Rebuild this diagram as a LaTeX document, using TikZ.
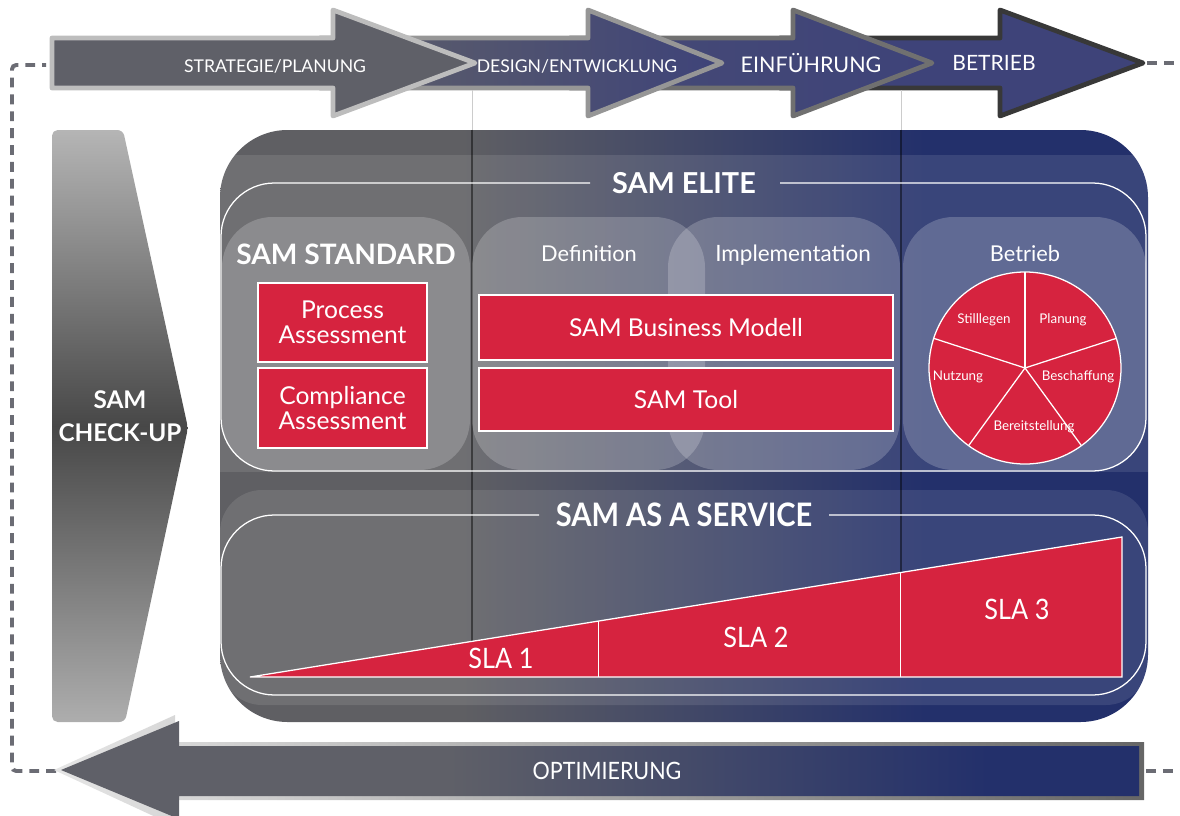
\documentclass[tikz,border=0pt]{standalone}
\usepackage{fontspec}
\setmainfont{Lato}
\newfontfamily\narrowfont{Lato}[FakeStretch=0.9]
\usetikzlibrary{positioning}

\definecolor{samgrey}{HTML}{5F5F63}
\definecolor{samnavy}{HTML}{23306B}
\definecolor{samred}{HTML}{D6233F}
\definecolor{arrowgrey}{HTML}{5F6068}
\definecolor{arrowblue}{HTML}{3E4379}
\definecolor{dashgrey}{HTML}{6B6C74}

\pgfdeclarehorizontalshading{panelshade}{100bp}{color(0bp)=(samgrey); color(38bp)=(samgrey); color(63bp)=(samnavy); color(100bp)=(samnavy)}
\pgfdeclarehorizontalshading{optshade}{100bp}{color(0bp)=(arrowgrey); color(43bp)=(arrowgrey); color(68bp)=(samnavy); color(100bp)=(samnavy)}
\pgfdeclareverticalshading{checkshade}{100bp}{color(0bp)=(black!32); color(25bp)=(black!32); color(50bp)=(black!72); color(75bp)=(black!29); color(100bp)=(black!29)}

\newcommand\pix{0.025cm}

\begin{document}
\begin{tikzpicture}
[x=\pix,y=-\pix,
  every node/.style={text=white,inner sep=0pt},
  phasetext/.style={font=\fontsize{12.5}{15}\selectfont},
  headtext/.style={font=\bfseries\fontsize{20.5}{24}\selectfont},
  blobtext/.style={font=\fontsize{15.5}{18}\selectfont},
  redbox/.style={fill=samred,draw=white,line width=0.9pt,align=center,
    font=\fontsize{17.5}{17.5}\selectfont},
  blob/.style={fill=white,fill opacity=0.2,rounded corners=36pt},
  frameline/.style={draw=white,line width=0.9pt,rounded corners=38pt},
  phaseline/.style={draw=black,draw opacity=0.45,line width=0.8pt},
  loopdash/.style={draw=dashgrey,line width=2.8pt,dash pattern=on 7pt off 5pt},
  slatext/.style={font=\narrowfont\fontsize{20}{24}\selectfont},
  pietext/.style={font=\fontsize{9.5}{11}\selectfont}]
\useasboundingbox (0,0) rectangle (1180,816);

%% dashed loop round the whole thing
\coordinate (loopstart) at (46,65);
\coordinate (loopend) at (56,771);
\draw[loopdash,rounded corners=3pt] (loopend) -- (12,771) -- (12,65) -- (loopstart);
\draw[loopdash] (1147,63) -- (1180,63);
\draw[loopdash] (1146,771) -- (1180,771);

%% phase arrows along the top, back to front
\foreach \from/\base/\tip/\lcol/\rcol/\edge in {780/1000/1143/arrowblue/arrowblue/black!78,
  570/793/932/arrowblue!75!arrowgrey/arrowblue/black!56,
  320/588/722/arrowgrey/arrowblue/black!41,
  52/333/475/arrowgrey/arrowgrey/black!26} {
  \shadedraw[left color=\lcol,right color=\rcol,draw=\edge,line width=3.4pt,line join=round]
    (\from,38) -- (\base,38) -- (\base,10) -- (\tip,63) -- (\base,116) -- (\base,88) -- (\from,88) -- cycle;
}
\node[phasetext] (strategie) at (275,66) {STRATEGIE/PLANUNG};
\node[phasetext] (design) at (577,66) {DESIGN/ENTWICKLUNG};
\node[phasetext,font=\fontsize{15.3}{17}\selectfont] (einfuehrung) at (811,63) {EINFÜHRUNG};
\node[phasetext,font=\fontsize{15}{17}\selectfont] (betrieb) at (994,63) {BETRIEB};

%% check-up wedge on the left
\shade[shading=checkshade,rounded corners=4pt]
  (52,130) -- (123,130) -- (188,428) -- (125,722) -- (52,722) -- cycle;
\node[headtext,align=center,font=\bfseries\fontsize{17.3}{23.5}\selectfont] (checkup) at (120,416) {SAM\\CHECK-UP};

%% main panel with its two lighter bands
\shade[shading=panelshade,rounded corners=48pt] (220,130) rectangle (1148,722);
\begin{scope}
  \clip[rounded corners=48pt] (220,130) rectangle (1148,722);
  \fill[white,opacity=0.1] (220,155) rectangle (1148,472);
  \fill[white,opacity=0.1,rounded corners=30pt] (220,490) rectangle (1148,705);
\end{scope}
\foreach \x/\y in {472/641, 901/573} {
  \draw[black!20,line width=0.4pt] (\x,90) -- (\x,130);
  \draw[phaseline] (\x,130) -- (\x,\y);
}

%% elite band
\foreach \l/\r in {222/470, 472/705, 668/900, 903/1146}
  \fill[blob] (\l,217) rectangle (\r,470);
\draw[frameline] (590,183) -- (221,183) -- (221,471) -- (1146,471) -- (1146,183) -- (780,183);
\node[headtext] (elite) at (684,183) {SAM ELITE};
\node[headtext,font=\bfseries\fontsize{20}{24}\selectfont] (standard) at (346,254) {SAM STANDARD};
\node[blobtext] (definition) at (589,254) {Definition};
\node[blobtext,font=\fontsize{16}{18}\selectfont] (implementation) at (793,255) {Implementation};
\node[blobtext] (betriebblob) at (1025,254) {Betrieb};

\node[redbox,minimum width=169*\pix,minimum height=79*\pix] (process) at (342.5,322.5) {Process\\Assessment};
\node[redbox,minimum width=169*\pix,minimum height=80*\pix] (compliance) at (342.5,408) {Compliance\\Assessment};
\node[redbox,minimum width=414*\pix,minimum height=65*\pix] (business) at (686,327.5) {SAM Business Modell};
\node[redbox,minimum width=414*\pix,minimum height=63*\pix] (samtool) at (686,399.5) {SAM Tool};

%% life cycle wheel
\coordinate (hub) at (1025,368);
\draw[fill=samred,draw=white,line width=0.9pt] (hub) circle [radius=96*\pix];
\foreach \a in {-90,-18,54,126,-162}
  \draw[white,line width=0.9pt] (hub) -- ++(\a:96);
\foreach \name/\x/\y/\word in {stilllegen/984/320/Stilllegen, planung/1063/320/Planung,
  nutzung/958/377/Nutzung, beschaffung/1078/377/Beschaffung, bereitstellung/1034/427/Bereitstellung}
  \node[pietext] (\name) at (\x,\y) {\word};

%% service band
\draw[frameline] (539,515) -- (221,515) -- (221,695) -- (1146,695) -- (1146,515) -- (829,515);
\node[headtext,font=\narrowfont\bfseries\fontsize{23}{26}\selectfont] (service) at (684,515) {SAM AS A SERVICE};
\coordinate (slatip) at (250,677);
\coordinate (slaend) at (1122,677);
\coordinate (slatop) at (1122,537);
\draw[fill=samred,draw=white,line width=0.9pt] (slatip) -- (slaend) -- (slatop) -- cycle;
\draw[white,line width=0.6pt] (598,677) -- (598,621) (900,677) -- (900,573);
\node[slatext] (sla1) at (501,658) {SLA 1};
\node[slatext] (sla2) at (756,637) {SLA 2};
\node[slatext] (sla3) at (1017,609) {SLA 3};

%% optimisation arrow at the bottom
\shade[left color=black!10,right color=black!60]
  (54,770) -- (175,715) -- (175,742) -- (1144,742) -- (1144,800) -- (175,800) -- (175,826) -- cycle;
\shade[shading=optshade]
  (61,770) -- (179,721) -- (179,746) -- (1139,746) -- (1139,796) -- (179,796) -- (179,819) -- cycle;
\node[font=\narrowfont\fontsize{17}{20}\selectfont] (optimierung) at (607,771) {OPTIMIERUNG};
\end{tikzpicture}
\end{document}
